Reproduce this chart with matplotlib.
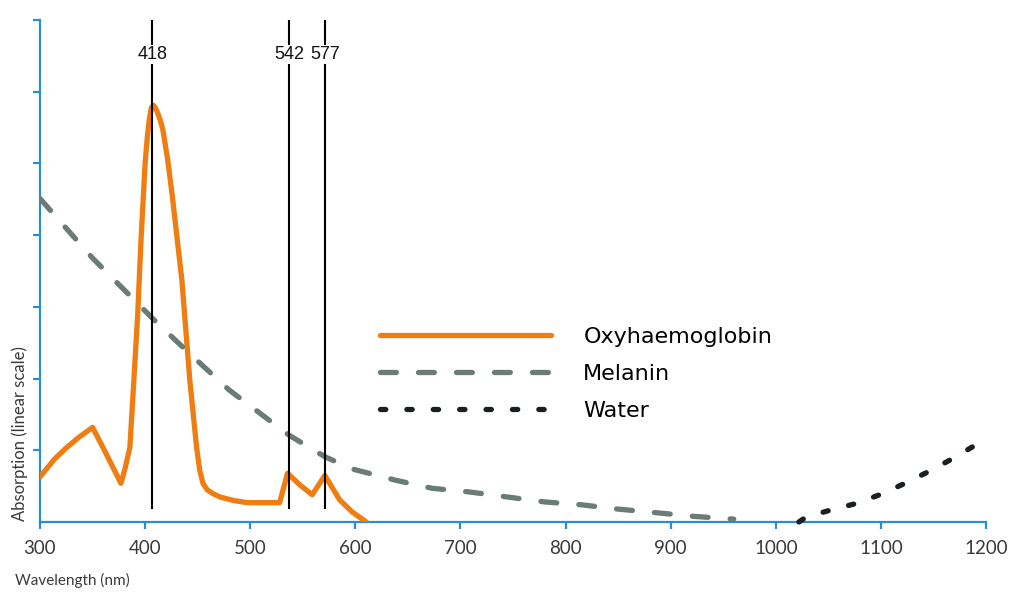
import numpy as np
import matplotlib
matplotlib.use('Agg')
import matplotlib.pyplot as plt

# %% DATA

# Oxyhaemoglobin (nm, absorption)
hb_nm  = [300, 305, 314, 324, 336, 350, 363, 377, 381, 385.5, 389, 393, 396,
          400, 402, 404, 406, 408, 410, 412, 414.5, 417, 421.5, 426, 435,
          442.5, 449, 452, 455, 459, 464, 471, 484, 497, 512, 528,
          535.5, 547, 559, 571, 585, 597, 610.5]
hb_abs = [0.63, 0.72, 0.88, 1.02, 1.17, 1.32, 0.95, 0.54, 0.75, 1.04, 1.9,
          2.91, 3.9, 5.0, 5.35, 5.62, 5.78, 5.81, 5.77, 5.7, 5.6, 5.46, 5.05,
          4.53, 3.37, 1.98, 1.04, 0.72, 0.54, 0.45, 0.4, 0.35, 0.3, 0.27,
          0.27, 0.27, 0.68, 0.52, 0.38, 0.65, 0.31, 0.14, 0.0]

# Melanin
mel_nm  = [300, 350, 407, 440, 480, 537, 571, 597, 639, 673, 708, 744, 780,
           815, 850, 886, 921, 960]
mel_abs = [4.51, 3.68, 2.84, 2.38, 1.84, 1.21, 0.91, 0.74, 0.58, 0.47, 0.42,
           0.35, 0.28, 0.24, 0.18, 0.13, 0.08, 0.04]

# Water
wat_nm  = [1022, 1029, 1053, 1077, 1100.6, 1123, 1145, 1169, 1200]
wat_abs = [0.0, 0.07, 0.17, 0.26, 0.39, 0.54, 0.70, 0.89, 1.16]

# Marked peaks: drawn position and printed label
peak_pos    = [407, 537, 571]
peak_labels = ['418', '542', '577']

xticks = list(range(300, 1201, 100))

# %% STYLE

blue   = '#2a8bd6'
orange = '#ef7d11'
grey   = '#6b7b76'
dark   = '#1a1f1f'
txt    = '#3a3a3a'

fig = plt.figure(figsize=(10.12, 5.94), dpi=100)
fig.set_facecolor('white')
ax = fig.add_axes([40/1012, 1-522/594, 946/1012, 502/594])

# %% PLOT

ax.plot(hb_nm, hb_abs, color=orange, lw=3.8, solid_joinstyle='round',
        solid_capstyle='round', label='Oxyhaemoglobin', zorder=3)
ax.plot(mel_nm, mel_abs, color=grey, lw=3.8, dash_capstyle='round',
        linestyle=(0, (3.0, 4.2)), label='Melanin', zorder=3)
ax.plot(wat_nm, wat_abs, color=dark, lw=3.8, dash_capstyle='round',
        linestyle=(0, (1.0, 4.0)), label='Water', zorder=3, clip_on=False)

for xp, lab in zip(peak_pos, peak_labels):
    ax.plot([xp, xp], [0.19, 7.0], color='k', lw=1.5, zorder=5)
    ax.text(xp, 6.52, lab, ha='center', va='center', fontsize=13,
            family='Liberation Sans', color='#111111', zorder=6,
            bbox=dict(facecolor='white', edgecolor='none', pad=0.5))

ax.set_xlim(300, 1200)
ax.set_ylim(0, 7)
ax.set_xticks(xticks)
ax.set_yticks(range(1, 8))
ax.set_yticklabels([])

for s in ['top', 'right']:
    ax.spines[s].set_visible(False)
for s in ['left', 'bottom']:
    ax.spines[s].set_color(blue)
    ax.spines[s].set_linewidth(1.6)
ax.tick_params(axis='both', colors=blue, width=1.6, length=5, direction='out')
ax.tick_params(axis='x', labelcolor=txt, labelsize=13.5, pad=8)
for t in ax.get_xticklabels():
    t.set_family('Lato')

fig.text(20/1012, 1-434/594, 'Absorption (linear scale)', rotation=90,
         ha='center', va='center', fontsize=12, family='Lato', color=txt)
fig.text(15/1012, 1-580/594, 'Wavelength (nm)', ha='left', va='center',
         fontsize=11, family='Lato', color=txt)

ax.legend(loc='center left', bbox_to_anchor=(380/1012, 1-374/594),
          bbox_transform=fig.transFigure, frameon=False, borderpad=0,
          borderaxespad=0, handlelength=7.7, handletextpad=1.45,
          labelspacing=0.76, prop={'family': 'DejaVu Sans', 'size': 16})

fig.savefig('out.png', dpi=100, facecolor='white')
